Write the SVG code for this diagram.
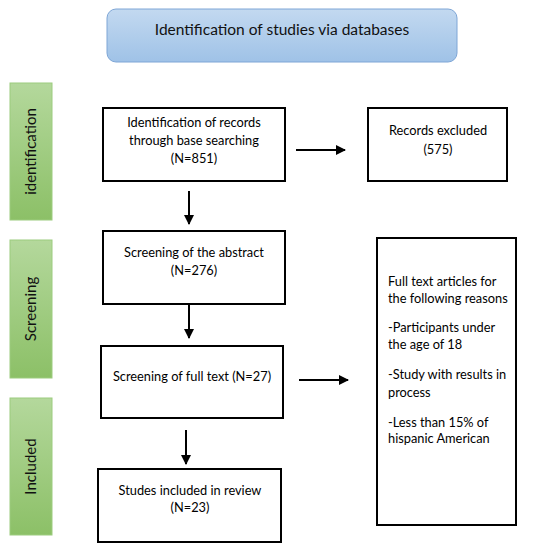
<svg xmlns="http://www.w3.org/2000/svg" width="550" height="550" viewBox="0 0 550 550">
<defs>
<linearGradient id="gBlue" x1="0" y1="0" x2="0" y2="1">
<stop offset="0" stop-color="#c3d9f0"/>
<stop offset="1" stop-color="#9fc2e7"/>
</linearGradient>
<linearGradient id="gGreen" x1="0" y1="0" x2="0" y2="1">
<stop offset="0" stop-color="#b4d89c"/>
<stop offset="1" stop-color="#8cc067"/>
</linearGradient>
<marker id="ah" viewBox="0 0 10 10" refX="9" refY="5" markerWidth="5" markerHeight="5" orient="auto" markerUnits="strokeWidth">
<path d="M0,0 L10,5 L0,10 z" fill="#000"/>
</marker>
<style>
.box{fill:#fff;stroke:#000;stroke-width:2}
.side{fill:url(#gGreen);stroke:#9ccc7e;stroke-width:1}
.t{font-family:Lato,"Open Sans","Liberation Sans",sans-serif;font-size:12.8px;fill:#000;text-anchor:middle}
.tl{font-family:Lato,"Open Sans","Liberation Sans",sans-serif;font-size:12.8px;fill:#000}
.st{font-family:Lato,"Open Sans","Liberation Sans",sans-serif;font-size:15px;fill:#111;text-anchor:middle}
.c{stroke:#000;stroke-width:2;fill:none;marker-end:url(#ah)}
</style>
</defs>
<rect width="550" height="550" fill="#fff"/>
<g id="title">
<rect x="107" y="9" width="350" height="53" rx="9" fill="url(#gBlue)" stroke="#7ea6d6" stroke-width="1"/>
<text class="st" x="282" y="35" style="font-size:15.5px">Identification of studies via databases</text>
</g>
<g id="stage-identification">
<rect class="side" x="10" y="83" width="42" height="137"/>
<text class="st" transform="translate(36,151.5) rotate(-90)">identification</text>
</g>
<g id="stage-screening">
<rect class="side" x="10" y="240" width="42" height="138"/>
<text class="st" transform="translate(36,309) rotate(-90)">Screening</text>
</g>
<g id="stage-included">
<rect class="side" x="10" y="398" width="42" height="137"/>
<text class="st" transform="translate(36,466.5) rotate(-90)">Included</text>
</g>
<g id="n-identification">
<rect class="box" x="103" y="108" width="182" height="73"/>
<text class="t" x="194" y="127">Identification of records</text>
<text class="t" x="194" y="145">through base searching</text>
<text class="t" x="194" y="163">(N=851)</text>
</g>
<g id="n-excluded">
<rect class="box" x="368" y="108" width="139" height="73"/>
<text class="t" x="438" y="135">Records excluded</text>
<text class="t" x="438" y="154">(575)</text>
</g>
<g id="n-abstract">
<rect class="box" x="103" y="231" width="182" height="73"/>
<text class="t" x="194" y="257">Screening of the abstract</text>
<text class="t" x="194" y="275">(N=276)</text>
</g>
<g id="n-fulltext">
<rect class="box" x="101" y="346" width="182" height="72"/>
<text class="t" x="192" y="381">Screening of full text (N=27)</text>
</g>
<g id="n-reasons">
<rect class="box" x="377" y="238" width="139" height="287"/>
<text class="tl" x="388" y="286">Full text articles for</text>
<text class="tl" x="388" y="303">the following reasons</text>
<text class="tl" x="388" y="332">-Participants under</text>
<text class="tl" x="388" y="349">the age of 18</text>
<text class="tl" x="388" y="379">-Study with results in</text>
<text class="tl" x="388" y="397">process</text>
<text class="tl" x="388" y="427">-Less than 15% of</text>
<text class="tl" x="388" y="443">hispanic American</text>
</g>
<g id="n-included">
<rect class="box" x="98" y="469" width="183" height="73"/>
<text class="t" x="190" y="495">Studes included in review</text>
<text class="t" x="190" y="512">(N=23)</text>
</g>
<g id="connectors">
<line class="c" x1="296" y1="150" x2="345" y2="150"/>
<line class="c" x1="189" y1="191" x2="189" y2="224"/>
<line class="c" x1="189" y1="305" x2="189" y2="338"/>
<line class="c" x1="299" y1="380" x2="348" y2="380"/>
<line class="c" x1="186" y1="430" x2="186" y2="464"/>
</g>
</svg>
